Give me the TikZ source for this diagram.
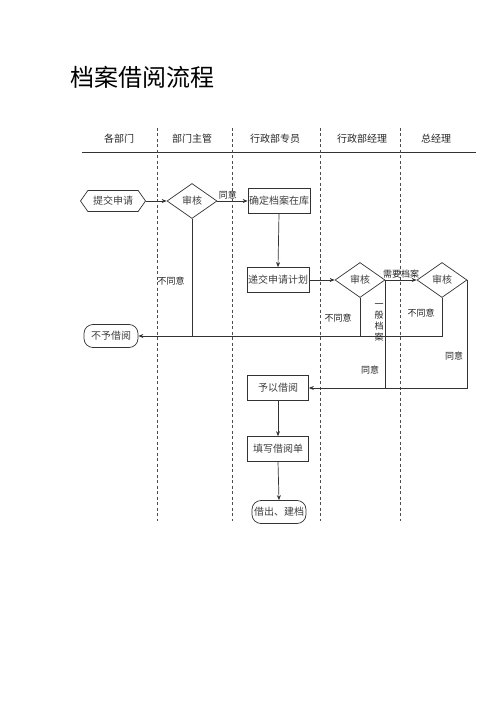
\documentclass[tikz,border=0pt]{standalone}
\usepackage{fontspec}
\setmainfont{Noto Sans CJK SC}
\usetikzlibrary{shapes.geometric,shapes.symbols,arrows.meta}
\tikzset{
  ln/.style={draw=black!80, line width=0.7pt},
  arr/.style={ln, -{Stealth[length=5pt,width=4pt]}},
  procbox/.style={ln, rectangle, minimum width=61pt, minimum height=25pt, inner sep=1pt, font=\fontsize{10}{12}\selectfont, text=black!75},
  termbox/.style={ln, rectangle, rounded corners=9pt, minimum width=54pt, minimum height=23pt, inner sep=1pt, font=\fontsize{10}{12}\selectfont, text=black!75},
  decbox/.style={ln, diamond, minimum width=50pt, minimum height=35pt, inner sep=0pt, font=\fontsize{10}{12}\selectfont, text=black!75},
  hexbox/.style={ln, signal, signal to=east and west, signal pointer angle=110, minimum width=65pt, minimum height=21pt, inner sep=1pt, font=\fontsize{10}{12}\selectfont, text=black!75},
  hdr/.style={font=\fontsize{10}{12}\selectfont, text=black!85},
  lbl/.style={font=\fontsize{9}{11}\selectfont, text=black!85, inner sep=1pt},
  lane/.style={draw=black!70, dashed, line width=0.6pt, dash pattern=on 3pt off 2.5pt}
}
\begin{document}
\begin{tikzpicture}[x=1pt,y=-1pt]
\useasboundingbox[fill=white] (0,0) rectangle (500,708);
% title
\node (title) at (142,77) {\fontsize{24}{28}\selectfont 档案借阅流程};
% headers
\node[hdr] (h1) at (119,139) {各部门};
\node[hdr] (h2) at (192,139) {部门主管};
\node[hdr] (h3) at (275,139) {行政部专员};
\node[hdr] (h4) at (362,139) {行政部经理};
\node[hdr] (h5) at (436,139) {总经理};
\coordinate (hl) at (82,152);
\coordinate (hr) at (476,152);
\draw[ln, line width=0.9pt] (hl) -- (hr);
% lane separators
\foreach \i/\x in {1/157,2/232,3/320,4/400}{
  \coordinate (lt\i) at (\x,128);
  \coordinate (lb\i) at (\x,521);
  \draw[lane] (lt\i) -- (lb\i);
}
% nodes
\node[hexbox] (submit) at (113,201) {提交申请};
\node[decbox] (d1) at (192,201) {审核};
\node[procbox] (confirm) at (279,201) {确定档案在库};
\node[procbox] (plan) at (278,280) {递交申请计划};
\node[decbox] (d2) at (360,280) {审核};
\node[decbox] (d3) at (442,280) {审核};
\node[termbox] (deny) at (111,336) {不予借阅};
\node[procbox] (grant) at (278,388) {予以借阅};
\node[procbox] (form) at (278,449) {填写借阅单};
\node[termbox] (lend) at (279,512) {借出、建档};
% coordinates
\coordinate (j1) at (d1.south |- deny.east);
\coordinate (j2) at (d2.south |- deny.east);
\coordinate (j3) at (d3.south |- deny.east);
\coordinate (k2) at (d2.east |- grant.east);
\coordinate (k3) at (d3.east |- grant.east);
% connectors
\draw[arr] (submit.east) -- (d1.west);
\draw[arr] (d1.east) -- node[lbl, above, pos=0.35] {同意} (confirm.west);
\draw[arr] (confirm.south) -- (plan.north);
\draw[arr] (plan.east) -- (d2.west);
\draw[arr] (d2.east) -- node[lbl, above] {需要档案} (d3.west);
\draw[ln] (d1.south) -- (j1);
\draw[ln] (d2.south) -- (j2);
\draw[arr] (d3.south) -- (j3) -- (deny.east);
\draw[ln] (d2.east) -- (k2);
\draw[arr] (d3.east) -- (k3) -- (grant.east);
\draw[arr] (grant.south) -- (form.north);
\draw[arr] (form.south) -- (lend.north);
% labels
\node[lbl] (n1) at (171,281) {不同意};
\node[lbl] (n2) at (338,318) {不同意};
\node[lbl] (n3) at (421,313) {不同意};
\node[lbl, align=center] (n4) at (379,322) {\fontsize{9}{14}\selectfont 一\\般\\档\\案};
\node[lbl] (n5) at (370,370) {同意};
\node[lbl] (n6) at (454,356) {同意};
\end{tikzpicture}
\end{document}
